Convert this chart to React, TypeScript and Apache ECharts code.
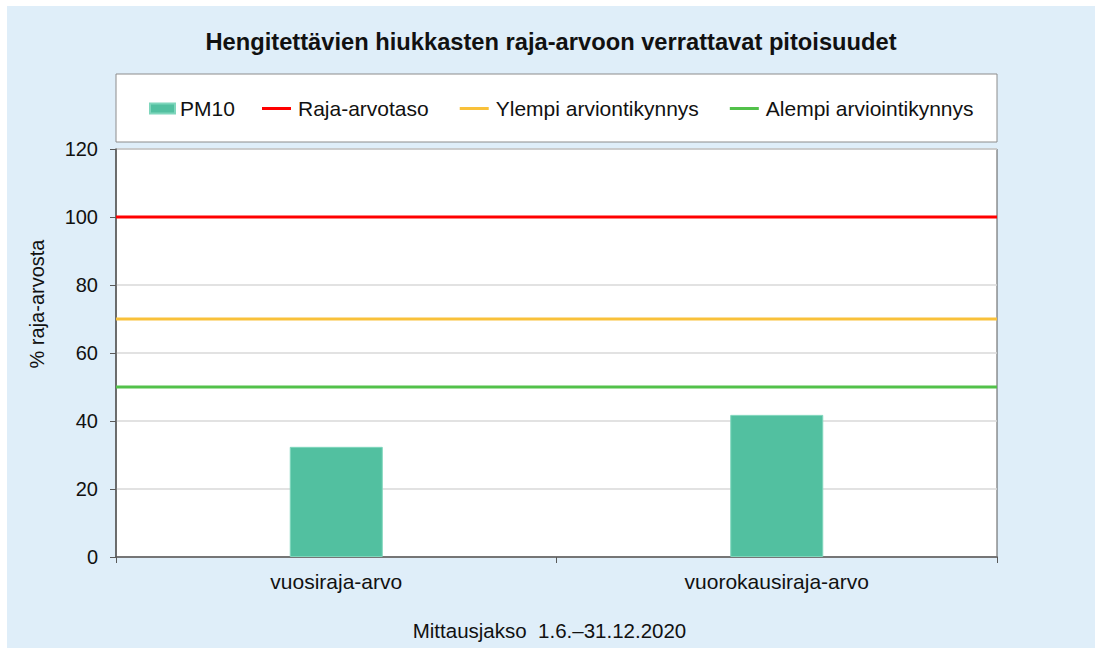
import React, { useEffect, useRef } from "react";
import * as echarts from "echarts";

const title = "Hengitettävien hiukkasten raja-arvoon verrattavat pitoisuudet";
const categories = ["vuosiraja-arvo", "vuorokausiraja-arvo"];
const pm10 = [32.4, 41.8];
const rajaArvotaso = [100, 100];
const ylempi = [70, 70];
const alempi = [50, 50];
const yTicks = { min: 0, max: 120, interval: 20 };
const yName = "% raja-arvosta";
const xName = "Mittausjakso  1.6.–31.12.2020";

const FONT = "'Liberation Sans', Arial, sans-serif";

export default function App() {
  const ref = useRef<HTMLDivElement>(null);
  useEffect(() => {
    if (!ref.current) return;
    const chart = echarts.init(ref.current, undefined, { renderer: "svg" });
    const lineSeries = (name: string, vals: number[], color: string) => ({
      name,
      type: "line",
      xAxisIndex: 1,
      yAxisIndex: 0,
      data: vals.map((v, i) => [i, v]),
      symbol: "none",
      lineStyle: { color, width: 3 },
      itemStyle: { color },
      silent: true,
      z: 3,
    });
    chart.setOption({
      animation: false,
      backgroundColor: "#ffffff",
      textStyle: { fontFamily: FONT },
      graphic: [
        { type: "rect", z: -10, shape: { x: 7, y: 6, width: 1088, height: 642 }, style: { fill: "#dfeef9" } },
        { type: "rect", z: -5, shape: { x: 116, y: 74, width: 881, height: 68 }, style: { fill: "#ffffff", stroke: "#8c8c8c", lineWidth: 1 } },
        {
          type: "text",
          x: 37,
          y: 304,
          rotation: Math.PI / 2,
          style: { text: yName, fontFamily: FONT, fontSize: 20, fill: "#111", align: "center", verticalAlign: "middle" },
        },
      ],
      title: {
        text: title,
        left: "center",
        top: 25,
        textStyle: { fontFamily: FONT, fontSize: 23.7, fontWeight: "bold", color: "#111" },
      },
      legend: [
        {
          data: ["PM10"],
          left: 149,
          top: 98,
          padding: 0,
          icon: "rect",
          itemWidth: 25,
          itemHeight: 10,
          textStyle: { fontFamily: FONT, fontSize: 21, color: "#111" },
        },
        {
          data: ["Raja-arvotaso", "Ylempi arviontikynnys", "Alempi arviointikynnys"],
          left: 262,
          top: 98,
          padding: 0,
          icon: "rect",
          itemWidth: 29,
          itemHeight: 3,
          itemGap: 31,
          textStyle: { fontFamily: FONT, fontSize: 21, color: "#111", padding: [0, 0, 0, 2] },
        },
      ],
      grid: {
        left: 116,
        top: 149,
        width: 881,
        height: 408,
        show: true,
        backgroundColor: "#ffffff",
        borderColor: "#595959",
        borderWidth: 1,
      },
      xAxis: [
        {
          type: "category",
          data: categories,
          axisLine: { lineStyle: { color: "#595959", width: 1.5 } },
          axisTick: { show: true, length: 6, lineStyle: { color: "#595959" } },
          axisLabel: { fontFamily: FONT, fontSize: 21, color: "#111", margin: 14 },
          name: xName,
          nameLocation: "middle",
          nameGap: 63,
          nameTextStyle: { fontFamily: FONT, fontSize: 20.5, color: "#111", padding: [0, 14, 0, 0] },
        },
        { type: "value", min: 0, max: 1, show: false },
      ],
      yAxis: {
        type: "value",
        min: yTicks.min,
        max: yTicks.max,
        interval: yTicks.interval,
        axisLine: { show: true, lineStyle: { color: "#595959", width: 1.5 } },
        axisTick: { show: true, length: 6, lineStyle: { color: "#595959" } },
        axisLabel: { fontFamily: FONT, fontSize: 20, color: "#111", margin: 18 },
        splitLine: { lineStyle: { color: "#d9d9d9", width: 1.5 } },
      },
      series: [
        {
          name: "PM10",
          type: "bar",
          data: pm10,
          barWidth: 93,
          itemStyle: { color: "#52c0a0", borderColor: "#7fd6bc", borderWidth: 1 },
          z: 2,
        },
        lineSeries("Raja-arvotaso", rajaArvotaso, "#ff0000"),
        lineSeries("Ylempi arviontikynnys", ylempi, "#f9c13a"),
        lineSeries("Alempi arviointikynnys", alempi, "#52c14a"),
      ],
    });
    return () => chart.dispose();
  }, []);
  return (
    <div style={{ position: "absolute", left: 0, top: 0, width: 1102, height: 651 }}>
      <div ref={ref} style={{ width: 1102, height: 651 }} />
    </div>
  );
}
